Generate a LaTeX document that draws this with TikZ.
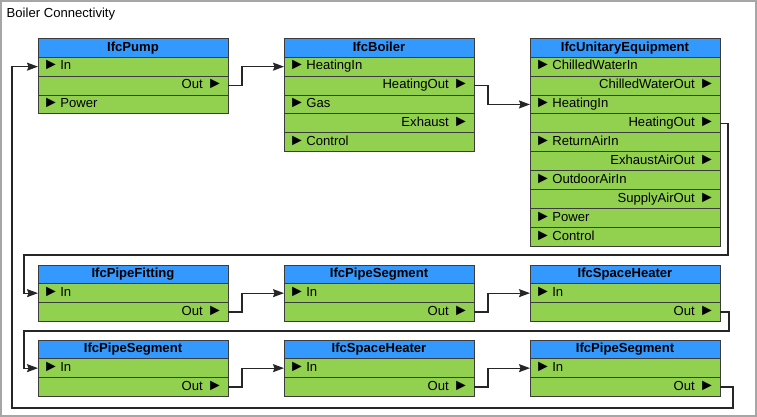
\documentclass[tikz,border=0pt]{standalone}
\usepackage{fontspec}
\setmainfont{Liberation Sans}
\usetikzlibrary{shapes,arrows.meta,positioning}
\definecolor{headblue}{RGB}{51,153,255}
\definecolor{rowgreen}{RGB}{146,208,80}
\definecolor{boxline}{RGB}{60,60,60}
\newcommand{\rowfont}{\fontsize{13.1}{15}\selectfont}
\newcommand{\tri}{{\fontsize{16}{15}\selectfont ►}}

\begin{document}
\begin{tikzpicture}[x=1pt,y=-1pt,>={Stealth[length=11pt,width=8pt,inset=1.5pt]},
  box/.style={draw=boxline,line width=.8pt,minimum width=190pt,outer sep=0pt,text height=9pt,text depth=2.5pt,font=\rowfont},
  head/.style={box,fill=headblue,minimum height=18.7pt,inner sep=0pt,anchor=north west,font=\bfseries\rowfont},
  inrow/.style={box,fill=rowgreen,minimum height=18.9pt,inner ysep=0pt,inner xsep=5pt,text width=180pt,align=left},
  outrow/.style={box,fill=rowgreen,minimum height=18.9pt,inner ysep=0pt,inner xsep=5pt,text width=180pt,align=right},
  link/.style={->,line width=1.3pt,draw=black!85}]
  \useasboundingbox (0,0) rectangle (757,417);
  \draw[gray!70,line width=2pt] (1,1) rectangle (756,416);
  \node[anchor=west,inner sep=0pt,font=\rowfont] (title) at (6.5,14) {Boiler Connectivity};

  % top row
  \node[head] (pump) at (38,38.5) {IfcPump};
  \node[inrow,below=0pt of pump] (pumpIn) {\tri\hspace{1.5pt}In};
  \node[outrow,below=0pt of pumpIn] (pumpOut) {Out \tri};
  \node[inrow,below=0pt of pumpOut] (pumpPower) {\tri\hspace{1.5pt}Power};

  \node[head,right=56pt of pump] (boiler) {IfcBoiler};
  \node[inrow,below=0pt of boiler] (boilerHeatIn) {\tri\hspace{1.5pt}HeatingIn};
  \node[outrow,below=0pt of boilerHeatIn] (boilerHeatOut) {HeatingOut \tri};
  \node[inrow,below=0pt of boilerHeatOut] (boilerGas) {\tri\hspace{1.5pt}Gas};
  \node[outrow,below=0pt of boilerGas] (boilerExhaust) {Exhaust \tri};
  \node[inrow,below=0pt of boilerExhaust] (boilerControl) {\tri\hspace{1.5pt}Control};

  \node[head,right=56pt of boiler] (unit) {IfcUnitaryEquipment};
  \node[inrow,below=0pt of unit] (unitCWIn) {\tri\hspace{1.5pt}ChilledWaterIn};
  \node[outrow,below=0pt of unitCWIn] (unitCWOut) {ChilledWaterOut \tri};
  \node[inrow,below=0pt of unitCWOut] (unitHeatIn) {\tri\hspace{1.5pt}HeatingIn};
  \node[outrow,below=0pt of unitHeatIn] (unitHeatOut) {HeatingOut \tri};
  \node[inrow,below=0pt of unitHeatOut] (unitRetIn) {\tri\hspace{1.5pt}ReturnAirIn};
  \node[outrow,below=0pt of unitRetIn] (unitExhOut) {ExhaustAirOut \tri};
  \node[inrow,below=0pt of unitExhOut] (unitOutdoorIn) {\tri\hspace{1.5pt}OutdoorAirIn};
  \node[outrow,below=0pt of unitOutdoorIn] (unitSupplyOut) {SupplyAirOut \tri};
  \node[inrow,below=0pt of unitSupplyOut] (unitPower) {\tri\hspace{1.5pt}Power};
  \node[inrow,below=0pt of unitPower] (unitControl) {\tri\hspace{1.5pt}Control};

  % middle row
  \node[head] (fitting) at (38,265) {IfcPipeFitting};
  \node[inrow,below=0pt of fitting] (fittingIn) {\tri\hspace{1.5pt}In};
  \node[outrow,below=0pt of fittingIn] (fittingOut) {Out \tri};

  \node[head,right=56pt of fitting] (segA) {IfcPipeSegment};
  \node[inrow,below=0pt of segA] (segAIn) {\tri\hspace{1.5pt}In};
  \node[outrow,below=0pt of segAIn] (segAOut) {Out \tri};

  \node[head,right=56pt of segA] (heaterA) {IfcSpaceHeater};
  \node[inrow,below=0pt of heaterA] (heaterAIn) {\tri\hspace{1.5pt}In};
  \node[outrow,below=0pt of heaterAIn] (heaterAOut) {Out \tri};

  % bottom row
  \node[head] (segB) at (38,340) {IfcPipeSegment};
  \node[inrow,below=0pt of segB] (segBIn) {\tri\hspace{1.5pt}In};
  \node[outrow,below=0pt of segBIn] (segBOut) {Out \tri};

  \node[head,right=56pt of segB] (heaterB) {IfcSpaceHeater};
  \node[inrow,below=0pt of heaterB] (heaterBIn) {\tri\hspace{1.5pt}In};
  \node[outrow,below=0pt of heaterBIn] (heaterBOut) {Out \tri};

  \node[head,right=56pt of heaterB] (segC) {IfcPipeSegment};
  \node[inrow,below=0pt of segC] (segCIn) {\tri\hspace{1.5pt}In};
  \node[outrow,below=0pt of segCIn] (segCOut) {Out \tri};

  % connections
  \draw[link] (pumpOut.east) -- ++(14,0) |- (boilerHeatIn.west);
  \draw[link] (boilerHeatOut.east) -- ++(14,0) |- (unitHeatIn.west);
  \draw[link] (unitHeatOut.east) -- ++(8,0) |- (24,255) |- (fittingIn.west);
  \draw[link] (fittingOut.east) -- ++(14,0) |- (segAIn.west);
  \draw[link] (segAOut.east) -- ++(14,0) |- (heaterAIn.west);
  \draw[link] (heaterAOut.east) -- ++(9,0) |- (24,331) |- (segBIn.west);
  \draw[link] (segBOut.east) -- ++(14,0) |- (heaterBIn.west);
  \draw[link] (heaterBOut.east) -- ++(14,0) |- (segCIn.west);
  \draw[link] (segCOut.east) -- ++(13,0) |- (12,408) |- (pumpIn.west);
\end{tikzpicture}
\end{document}
